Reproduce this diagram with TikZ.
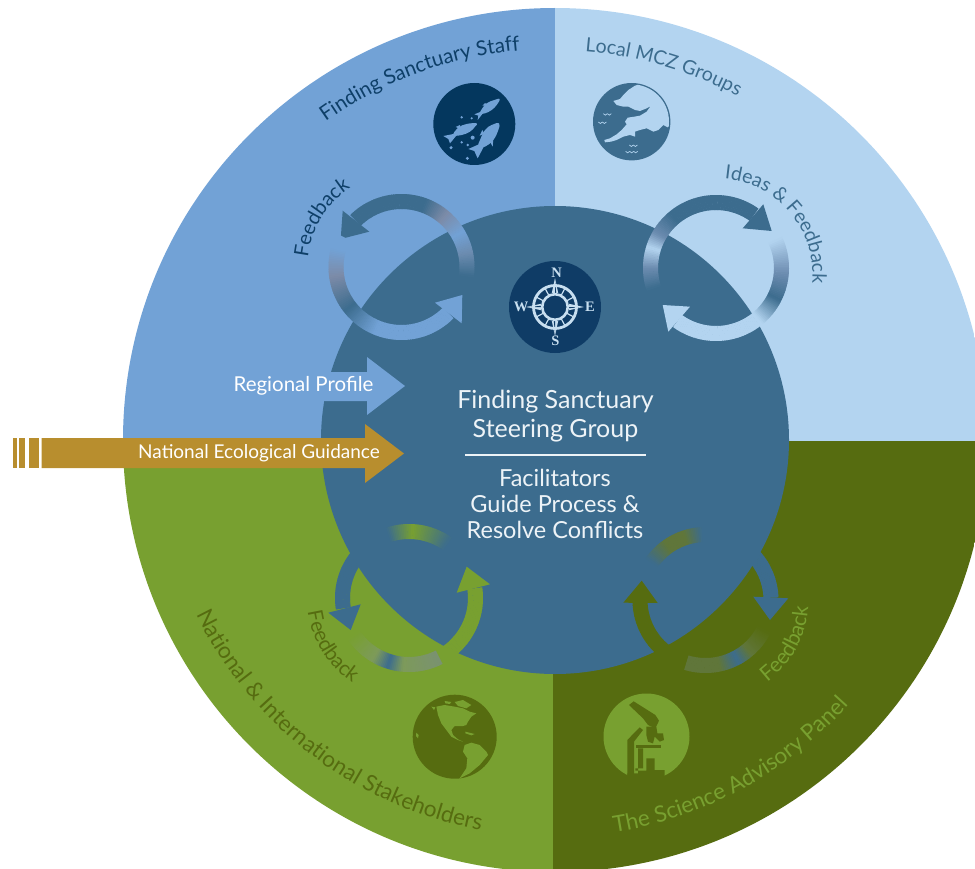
\documentclass[tikz,border=0pt]{standalone}
\usepackage{fontspec}
\setmainfont{Lato}
\newfontfamily\compassfont{Liberation Serif}
\usetikzlibrary{decorations.text}
\definecolor{qone}{HTML}{72A2D6}
\definecolor{qtwo}{HTML}{B3D4F0}
\definecolor{qthree}{HTML}{78A030}
\definecolor{qfour}{HTML}{566C10}
\definecolor{hub}{HTML}{3C6C8E}
\definecolor{navy}{HTML}{04375E}
\definecolor{compassbg}{HTML}{0F3C66}
\definecolor{compassline}{HTML}{C8DFF0}
\definecolor{gold}{HTML}{B88E2E}
\definecolor{inktext}{HTML}{EDF3F7}
\definecolor{greyblue}{HTML}{7C8BA8}
\definecolor{greyblueb}{HTML}{6C8CB0}
\definecolor{olive}{HTML}{7D9A5A}
\definecolor{olivemid}{HTML}{60763A}
\definecolor{olivegrey}{HTML}{7A9270}
\definecolor{staffink}{HTML}{0E3F68}
\newcommand{\gradarc}[8]{%
  \pgfmathtruncatemacro\nsteps{max(2,ceil(abs(#6-(#5))/1.5))}%
  \pgfmathsetmacro\ovl{((#6)>(#5))?0.4:-0.4}%
  \foreach \i in {1,...,\nsteps}{%
    \pgfmathsetmacro\aa{#5+(#6-(#5))*(\i-1)/\nsteps}%
    \pgfmathsetmacro\ab{#5+(#6-(#5))*\i/\nsteps+\ovl}%
    \pgfmathtruncatemacro\pc{100*(\i-0.5)/\nsteps}%
    \fill[#8!\pc!#7] ({#1+#4*cos(\aa)},{#2+#4*sin(\aa)}) -- ({#1+#4*cos(\ab)},{#2+#4*sin(\ab)})
      -- ({#1+#3*cos(\ab)},{#2+#3*sin(\ab)}) -- ({#1+#3*cos(\aa)},{#2+#3*sin(\aa)}) -- cycle;
  }%
}
\newcommand{\curvelabel}[7]{% cx cy r a0 a1 size colour, text in \curvetext
  \path[decorate,decoration={text along path,text align={align=center},
    text={|\fontsize{#6}{#6}\selectfont\color{#7}|\curvetext}}]
    ({#1+#3*cos(#4)},{#2+#3*sin(#4)}) arc[start angle=#4,end angle=#5,radius=#3];
}
\tikzset{
  midlabel/.style={text=inktext,inner sep=0pt,align=center},
  arrowlabel/.style={text=white,inner sep=0pt},
  compassletter/.style={text=compassline,inner sep=0pt,font=\compassfont\bfseries\fontsize{14.5}{15}\selectfont},
  zoomed/.style={x=0.33333pt,y=-0.33333pt},
}
\begin{document}
\begin{tikzpicture}[x=1pt,y=1pt]
\useasboundingbox (0,0) rectangle (975,-869);
\clip (0,0) rectangle (975,-869);
% quadrants
\begin{scope}
  \clip (555,-440) circle[radius=432];
  \fill[qone] (0,0) rectangle (555,-453);
  \fill[qtwo] (555,0) rectangle (975,-441);
  \fill[qthree] (0,-453) rectangle (553,-869);
  \fill[qfour] (553,-441) rectangle (975,-869);
\end{scope}
% hub
\fill[hub] (555,-440) circle[radius=234];
% ---- ring 1 (top left)
\gradarc{401.5}{-267}{58}{73}{134.7}{70}{hub}{hub}
\gradarc{401.5}{-267}{58}{73}{70}{50}{hub}{greyblue}
\gradarc{401.5}{-267}{58}{73}{50}{30}{greyblue}{qone}
\gradarc{401.5}{-267}{58}{73}{30}{12}{qone}{greyblueb}
\gradarc{401.5}{-267}{58}{73}{12}{-8}{greyblueb}{hub}
\fill[hub] (342.7,-210.7) -- (340.7,-239) -- (369.3,-231.7) -- cycle;
\gradarc{401.5}{-267}{58}{73}{-44.5}{-112}{qone}{qone}
\gradarc{401.5}{-267}{58}{73}{-112}{-142}{qone}{hub}
\gradarc{401.5}{-267}{58}{73}{-142}{-172}{hub}{greyblue}
\gradarc{401.5}{-267}{58}{73}{-172}{-195}{greyblue}{qone}
\gradarc{401.5}{-267}{58}{73}{-195}{-207}{qone}{qone}
\fill[qone] (435,-302.7) -- (462.3,-295) -- (461.7,-323.3) -- cycle;
% ---- ring 2 (top right)
\gradarc{716}{-268}{58}{73}{54.4}{130}{hub}{hub}
\gradarc{716}{-268}{58}{73}{130}{150}{hub}{greyblueb}
\gradarc{716}{-268}{58}{73}{150}{163}{greyblueb}{qtwo}
\gradarc{716}{-268}{58}{73}{163}{180}{qtwo}{greyblueb}
\gradarc{716}{-268}{58}{73}{180}{198}{greyblueb}{hub}
\fill[hub] (763.3,-204.3) -- (771.7,-231) -- (742.7,-228.3) -- cycle;
\gradarc{716}{-268}{58}{73}{234}{310}{qtwo}{qtwo}
\gradarc{716}{-268}{58}{73}{310}{333}{qtwo}{hub}
\gradarc{716}{-268}{58}{73}{333}{355}{hub}{greyblueb}
\gradarc{716}{-268}{58}{73}{355}{385}{greyblueb}{qtwo}
\fill[qtwo] (690,-306.7) -- (662.7,-305) -- (668.3,-331.7) -- cycle;
% ---- ring 3 (bottom left)
\gradarc{409}{-598}{59}{74}{189}{108}{hub}{hub}
\gradarc{409}{-598}{59}{74}{108}{87}{hub}{qthree}
\gradarc{409}{-598}{59}{74}{87}{55}{qthree}{hub}
\fill[hub] (328.3,-612.7) -- (360.7,-604.3) -- (350.7,-630) -- cycle;
\gradarc{409}{-598}{59}{74}{8.4}{-63}{qthree}{qthree}
\gradarc{409}{-598}{59}{74}{-63}{-95}{olivegrey}{olive}
\gradarc{409}{-598}{59}{74}{-95}{-107}{olive}{hub}
\gradarc{409}{-598}{59}{74}{-107}{-120}{hub}{olive}
\gradarc{409}{-598}{59}{74}{-120}{-146}{olive}{qthree}
\fill[qthree] (456.7,-592.7) -- (490,-584.3) -- (466.7,-566.7) -- cycle;
% ---- ring 4 (bottom right)
\gradarc{705.5}{-600}{58}{73}{2}{93}{hub}{hub}
\gradarc{705.5}{-600}{58}{73}{93}{108}{hub}{olivemid}
\gradarc{705.5}{-600}{58}{73}{108}{125}{olivemid}{olivemid}
\gradarc{705.5}{-600}{58}{73}{125}{145}{olivemid}{hub}
\fill[hub] (753.3,-596.7) -- (788.3,-598.3) -- (770,-620) -- cycle;
\gradarc{705.5}{-600}{58}{73}{182.5}{245}{qfour}{qfour}
\fill[qfour] (623.3,-602.7) -- (641.7,-580.7) -- (657.7,-603) -- cycle;
\gradarc{705.5}{-600}{58}{73}{-107}{-78}{olivemid}{olivemid}
\gradarc{705.5}{-600}{58}{73}{-78}{-62}{olivemid}{hub}
\gradarc{705.5}{-600}{58}{73}{-62}{-50}{hub}{olivemid}
\gradarc{705.5}{-600}{58}{73}{-50}{-27}{olivemid}{qfour}
% ---- straight arrows
\fill[qone] (318,-372) -- (367,-372) -- (367,-357) -- (405,-386) -- (367,-415) -- (367,-401) -- (318,-401) -- cycle;
\fill[gold] (41.5,-438) -- (365,-438) -- (365,-424) -- (404,-453.5) -- (365,-483) -- (365,-468) -- (41.5,-468) -- cycle;
\fill[gold] (29,-438) rectangle (39,-468);
\fill[gold] (18.5,-438) rectangle (25,-468);
\fill[gold] (13,-438) rectangle (17,-468);
% ---- icon: fish
\fill[navy] (474.3,-124) circle[radius=41];
\begin{scope}[shift={(425,-75)},zoomed]
  \fill[qone] plot[smooth cycle,tension=0.7] coordinates {(224,72) (205,76) (185,85) (172,100) (165,115) (180,115) (200,105) (215,90)};
  \fill[qone] (168,110) -- (148,118) -- (160,122) -- (158,135) -- (176,112) -- cycle;
  \fill[qone] (172,92) -- (180,84) -- (188,92) -- cycle;
  \fill[qone] plot[smooth cycle,tension=0.7] coordinates {(155,145) (125,147) (100,158) (85,180) (110,180) (135,170) (150,155)};
  \fill[qone] (90,176) -- (55,183) -- (70,192) -- (75,205) -- (94,182) -- cycle;
  \fill[qone] (92,156) -- (105,150) -- (106,162) -- cycle;
  \fill[qone] plot[smooth cycle,tension=0.7] coordinates {(222,145) (200,150) (180,165) (165,195) (160,215) (180,215) (205,195) (220,165)};
  \fill[qone] (166,206) -- (130,222) -- (148,228) -- (158,250) -- (178,212) -- cycle;
  \fill[qone] (195,200) -- (203,215) -- (205,190) -- cycle;
  \fill[qone] (172,165) -- (164,182) -- (178,176) -- cycle;
  \foreach \bx/\by/\br in {110/127/4,140/130/3.5,143/188/6,128/210/4,110/202/4,78/218/5,127/250/5}
    \fill[qone] (\bx,\by) ellipse[x radius=\br,y radius=-\br];
\end{scope}
% ---- icon: coast
\fill[hub] (631.7,-121.7) circle[radius=38.7];
\begin{scope}[shift={(585,-75)},zoomed]
  \begin{scope}
    \clip (140,140) ellipse[x radius=112,y radius=-112];
    \fill[qtwo] (150,32) -- (130,45) -- (115,60) -- (105,72) -- (85,78) -- (95,90) -- (115,95) -- (130,95) -- (150,105) -- (165,108) -- (185,100) -- (197,93) -- (185,110) -- (165,122) -- (148,125) -- (128,128) -- (120,140) -- (125,148) -- (110,165) -- (95,178) -- (75,190) -- (58,195) -- (60,202) -- (78,200) -- (95,195) -- (115,185) -- (135,180) -- (150,185) -- (150,170) -- (165,165) -- (185,160) -- (205,170) -- (220,165) -- (235,150) -- (250,158) -- (270,130) -- (250,60) -- (190,20) -- cycle;
  \end{scope}
  \foreach \wx/\wy/\wn in {55/116/2,40/141/2,133/210/2,122/229/3}{
    \foreach \k in {1,...,\wn}{
      \pgfmathsetmacro\wa{\wx+(\k-1)*12}
      \draw[qtwo,line width=0.7pt] (\wa,\wy) .. controls (\wa+3,\wy+6) and (\wa+9,\wy+6) .. (\wa+12,\wy);
    }
  }
\end{scope}
% ---- icon: compass
\fill[compassbg] (555,-307) circle[radius=46];
\begin{scope}[shift={(555,-307)}]
  \foreach \ang in {0,90,180,270}{
    \begin{scope}[rotate=\ang]
      \fill[compassline] (0,29) -- (3.2,14) -- (-3.2,14) -- cycle;
      \fill[compassbg] (0,26) -- (1.2,14) -- (0,14) -- cycle;
    \end{scope}
  }
  \foreach \ang in {28,62,118,152,208,242,298,332}
    \draw[compassline,line width=1.2pt] (\ang:13) -- (\ang:21);
  \draw[compassline,line width=2.8pt] (0,0) circle[radius=21.5];
  \draw[compassline,line width=2.6pt] (0,0) circle[radius=12.8];
\end{scope}
\node[compassletter] (compN) at (556.5,-273) {N};
\node[compassletter] (compE) at (590,-307) {E};
\node[compassletter] (compS) at (555.5,-341) {S};
\node[compassletter] (compW) at (521,-307) {W};
% ---- icon: globe
\fill[qfour] (454.7,-736.7) circle[radius=42];
\begin{scope}[shift={(408,-690)},zoomed]
  \fill[qthree] (85,50) -- (110,45) -- (140,50) -- (165,55) -- (185,65) -- (205,70) -- (190,80) -- (180,95) -- (175,105) -- (165,108) -- (140,108) -- (130,120) -- (135,135) -- (150,148) -- (165,155) -- (150,150) -- (130,140) -- (115,120) -- (100,100) -- (90,75) -- cycle;
  \fill[qthree] (110,33) -- (130,36) -- (125,42) -- (112,40) -- cycle;
  \fill[qthree] (140,36) -- (165,30) -- (190,45) -- (175,55) -- (150,48) -- cycle;
  \fill[qthree] (172,125) -- (200,132) -- (190,136) -- (172,130) -- cycle;
  \fill[qthree] (70,50) -- (82,52) -- (78,60) -- cycle;
  \fill[qthree] (25,128) -- (32,135) -- (30,145) -- (24,138) -- cycle;
  \fill[qthree] (170,165) -- (190,158) -- (215,165) -- (235,185) -- (240,195) -- (215,225) -- (185,250) -- (155,265) -- (175,235) -- (178,205) -- (165,185) -- cycle;
\end{scope}
% ---- icon: microscope
\fill[qthree] (646.5,-736.5) circle[radius=43];
\begin{scope}[shift={(598,-690)},zoomed]
  \fill[qfour] (93,45) -- (107,34) -- (172,75) -- (183,92) -- (172,115) -- (150,105) -- (135,85) -- cycle;
  \fill[qfour] (88,150) -- (125,112) -- (135,120) -- (108,155) -- (108,255) -- (88,255) -- cycle;
  \fill[qfour] (145,110) -- (175,110) -- (178,130) -- (195,130) -- (198,150) -- (185,155) -- (170,140) -- (165,160) -- (150,155) -- (145,135) -- cycle;
  \fill[qfour] (113,165) rectangle (190,175);
  \fill[qfour] (120,175) -- (135,175) -- (135,235) -- (112,235) -- (112,242) -- (145,242) -- (145,205) -- (170,205) -- (170,240) -- (200,240) -- (200,285) -- (88,285) -- (88,250) -- (120,250) -- cycle;
\end{scope}
% ---- centre text
\node[midlabel,font=\fontsize{25}{29}\selectfont] (hubtitle) at (555.5,-416) {Finding Sanctuary\\[0pt]Steering Group};
\coordinate (ruleL) at (465,-455);
\coordinate (ruleR) at (646,-455);
\draw[inktext,line width=1.2pt] (ruleL) -- (ruleR);
\node[midlabel,font=\fontsize{23.5}{26}\selectfont] (hubsub) at (555,-504) {Facilitators\\[0pt]Guide Process \&\\[0pt]Resolve Conflicts};
% ---- arrow labels
\node[arrowlabel,font=\fontsize{20.5}{21}\selectfont] (regional) at (303.5,-386) {Regional Profile};
\node[arrowlabel,font=\fontsize{19}{20}\selectfont] (national) at (259,-453.5) {National Ecological Guidance};
% ---- curved labels
\def\curvetext{Finding Sanctuary Staff}
\curvelabel{553}{-440}{391}{130}{90.4}{20.5}{staffink}
\def\curvetext{Local MCZ Groups}
\curvelabel{553}{-440}{390}{93.5}{53.5}{19.5}{hub}
\def\curvetext{Ideas {\&} Feedback}
\curvelabel{716}{-275}{96.5}{100}{-20}{19.5}{hub}
\def\curvetext{Feedback}
\curvelabel{401.5}{-267}{94}{190}{107}{20}{staffink}
\def\curvetext{National {\&} International Stakeholders}
\curvelabel{553}{-440}{397}{198}{267.5}{22.5}{qfour}
\def\curvetext{The Science Advisory Panel}
\curvelabel{553}{-440}{397}{-91}{-32}{22.5}{qthree}
\def\curvetext{Feedback}
\curvelabel{409}{-598}{102}{170}{254}{20.5}{qfour}
\curvelabel{705.5}{-600}{103}{-75}{18}{21}{qthree}
\end{tikzpicture}
\end{document}
